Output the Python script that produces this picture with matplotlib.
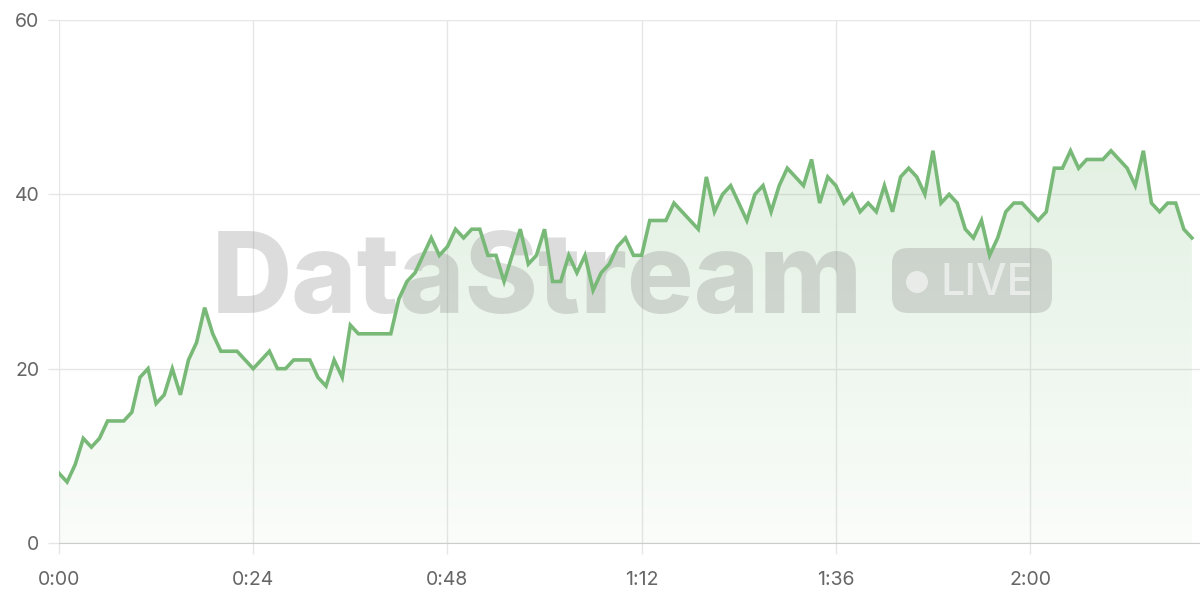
import numpy as np
import matplotlib.pyplot as plt
from matplotlib.patches import FancyBboxPatch, Circle
from matplotlib.transforms import IdentityTransform

# valores por segundo (0:00 .. 2:20)
valores = [8, 7, 9, 12, 11, 12, 14, 14, 14, 15,
           19, 20, 16, 17, 20, 17, 21, 23, 27, 24,
           22, 22, 22, 21, 20, 21, 22, 20, 20, 21,
           21, 21, 19, 18, 21, 19, 25, 24, 24, 24,
           24, 24, 28, 30, 31, 33, 35, 33, 34, 36,
           35, 36, 36, 33, 33, 30, 33, 36, 32, 33,
           36, 30, 30, 33, 31, 33, 29, 31, 32, 34,
           35, 33, 33, 37, 37, 37, 39, 38, 37, 36,
           42, 38, 40, 41, 39, 37, 40, 41, 38, 41,
           43, 42, 41, 44, 39, 42, 41, 39, 40, 38,
           39, 38, 41, 38, 42, 43, 42, 40, 45, 39,
           40, 39, 36, 35, 37, 33, 35, 38, 39, 39,
           38, 37, 38, 43, 43, 45, 43, 44, 44, 44,
           45, 44, 43, 41, 45, 39, 38, 39, 39, 36, 35]
segundos = np.arange(len(valores))

ticks_x = [0, 24, 48, 72, 96, 120]
etiquetas_x = ['0:00', '0:24', '0:48', '1:12', '1:36', '2:00']
ticks_y = [0, 20, 40, 60]

plt.rcParams['font.family'] = ['Inter', 'DejaVu Sans']

verde = '#78b978'
gris_texto = '#666666'
gris_rejilla = '#e6e6e6'

fig = plt.figure(figsize=(12, 6), dpi=100)
ax = fig.add_axes([59 / 1200, 1 - 543 / 600, 1141 / 1200, 523 / 600])
ax.set_xlim(0, 141)
ax.set_ylim(0, 60)

# relleno con degradado
poly = ax.fill_between(segundos, valores, 0, color='none')
grad = np.linspace(0.21, 0.04, 256).reshape(-1, 1)
img_rgba = np.zeros((256, 1, 4))
img_rgba[:, :, 0] = 0.47
img_rgba[:, :, 1] = 0.73
img_rgba[:, :, 2] = 0.47
img_rgba[:, :, 3] = grad
img = ax.imshow(img_rgba, aspect='auto', extent=[0, segundos[-1], 0, max(valores)],
                origin='upper', zorder=1)
img.set_clip_path(poly.get_paths()[0], transform=ax.transData)

ax.plot(segundos, valores, color=verde, linewidth=2.6, zorder=10,
        solid_joinstyle='miter')

ax.set_xticks(ticks_x)
ax.set_xticklabels(etiquetas_x)
ax.set_yticks(ticks_y)
ax.grid(True, color=gris_rejilla, linewidth=1)
ax.set_axisbelow(True)
for lado in ['top', 'right', 'left']:
    ax.spines[lado].set_visible(False)
ax.spines['bottom'].set_color('#cccccc')
ax.tick_params(axis='both', colors=gris_rejilla, labelcolor=gris_texto,
               labelsize=14, length=8, width=1)
ax.tick_params(axis='x', pad=12)
ax.tick_params(axis='y', pad=6)

# marca de agua (coordenadas en pixeles)
px = IdentityTransform()
ax.text(212, 600 - 313, 'DataStream', transform=px, fontsize=80, fontweight='heavy',
        color='#808080', alpha=0.27, ha='left', va='baseline', zorder=5)
ax.add_patch(FancyBboxPatch((892, 600 - 313), 160, 65,
                            boxstyle='round,pad=0,rounding_size=16',
                            transform=px, facecolor='#808080', alpha=0.27,
                            edgecolor='none', zorder=5, clip_on=False))
ax.add_patch(Circle((917, 600 - 282), 11, transform=px, facecolor='white',
                    alpha=0.55, edgecolor='none', zorder=6, clip_on=False))
ax.text(940, 600 - 295, 'LIVE', transform=px, fontsize=31, fontweight='medium',
        color='white', alpha=0.55, ha='left', va='baseline', zorder=6)

plt.savefig('out.png', dpi=100)
